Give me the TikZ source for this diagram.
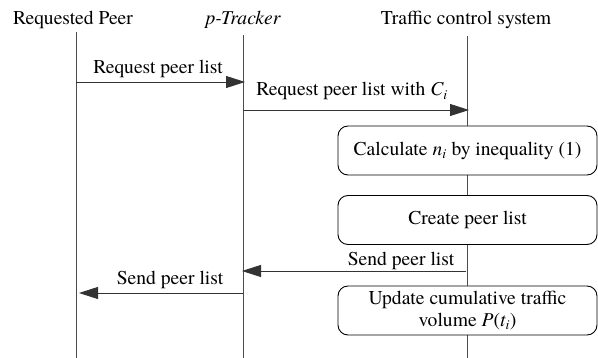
\documentclass[tikz,border=0pt]{standalone}
\usepackage{fontspec}
\setmainfont{texgyretermes}[Extension=.otf,UprightFont=*-regular,ItalicFont=*-italic,BoldFont=*-bold,BoldItalicFont=*-bolditalic]
\usetikzlibrary{arrows.meta}
\begin{document}
\begin{tikzpicture}[x=1pt,y=1pt,
        lbl/.style={anchor=base,font=\rmfamily\fontsize{19.6}{22}\selectfont},
        lifeline/.style={draw,line width=0.9pt,black!70},
        msg/.style={draw,line width=0.9pt,black!80,-{Triangle[length=19pt,width=12pt]}},
        act/.style={draw,line width=0.9pt,rounded corners=10pt,fill=white,minimum width=259pt,
            minimum height=49pt,inner sep=0pt,align=center,font=\rmfamily\fontsize{19.6}{21.5}\selectfont}]
        \useasboundingbox (0,0) rectangle (598,-358);

        \node[lbl] (peer) at (73,-25) {Requested Peer};
        \node[lbl] (tracker) at (243,-25) {\itshape p-Tracker};
        \node[lbl] (tcs) at (466,-25) {Traffic control system};

        \coordinate (pt) at (76,-32);
        \coordinate (pb) at (76,-358);
        \coordinate (tt) at (243,-35);
        \coordinate (tb) at (243,-358);
        \coordinate (st) at (467,-36);
        \coordinate (sb) at (467,-358);

        \path[lifeline] (pt) -- (pb);
        \path[lifeline] (tt) -- (tb);
        \path[lifeline] (st) -- (sb);

        \node[act] (calc) at (467.5,-150.5) {Calculate {\itshape n}\textsubscript{\itshape i} by inequality (1)};
        \node[act] (create) at (467.5,-220) {Create peer list};
        \node[act] (update) at (467.5,-310.5) {Update cumulative traffic\\volume {\itshape P}({\itshape t}\textsubscript{\itshape i})};

        \coordinate (m1a) at (76,-82);
        \coordinate (m1b) at (245,-82);
        \coordinate (m2a) at (243,-110);
        \coordinate (m2b) at (469,-110);
        \coordinate (m3a) at (466,-271);
        \coordinate (m3b) at (242,-271);
        \coordinate (m4a) at (243,-293);
        \coordinate (m4b) at (79,-293);

        \path[msg] (m1a) -- (m1b);
        \path[msg] (m2a) -- (m2b);
        \path[msg] (m3a) -- (m3b);
        \path[msg] (m4a) -- (m4b);

        \node[lbl] (req1) at (158,-74) {Request peer list};
        \node[lbl] (req2) at (352,-96) {Request peer list with {\itshape C}\textsubscript{\itshape i}};
        \node[lbl] (send1) at (401,-266) {Send peer list};
        \node[lbl] (send2) at (170,-285) {Send peer list};

    \end{tikzpicture}
\end{document}
